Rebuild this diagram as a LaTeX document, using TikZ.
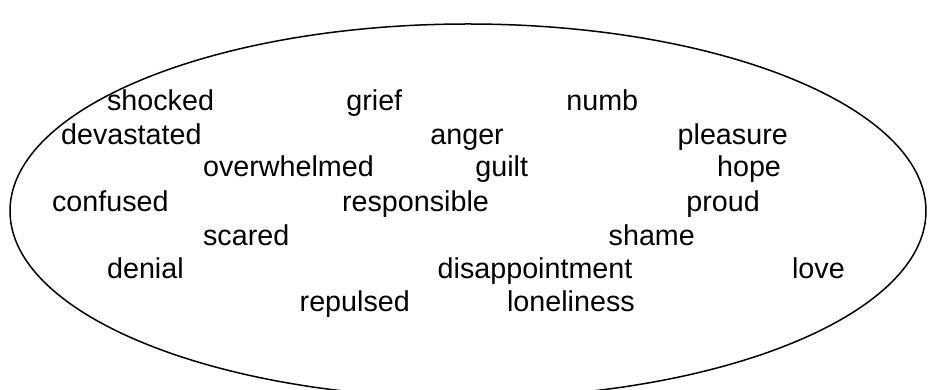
\documentclass[tikz,border=0pt]{standalone}
\usepackage{fontspec}
\setmainfont{Liberation Sans}

\begin{document}
\begin{tikzpicture}[x=0.5pt, y=0.5pt,
    feeling/.style={anchor=base west, inner sep=0pt, font=\fontsize{14.35}{17}\selectfont},
    bubble/.style={draw=black, line width=0.75pt},
]
\useasboundingbox (0,0) rectangle (928,390);
\clip (0,0) rectangle (928,390);
\draw[bubble] (468,179) ellipse [x radius=458, y radius=187];
% rows of words, top to bottom
\node[feeling] (shocked)     at (106.7, 279.0) {shocked};
\node[feeling] (grief)       at (346.0, 279.0) {grief};
\node[feeling] (numb)        at (566.0, 279.0) {numb};
\node[feeling] (devastated)  at ( 60.7, 245.5) {devastated};
\node[feeling] (anger)       at (430.0, 245.5) {anger};
\node[feeling] (pleasure)    at (677.3, 245.5) {pleasure};
\node[feeling] (overwhelmed) at (202.7, 213.0) {overwhelmed};
\node[feeling] (guilt)       at (475.0, 213.0) {guilt};
\node[feeling] (hope)        at (716.7, 213.0) {hope};
\node[feeling] (confused)    at ( 51.7, 178.5) {confused};
\node[feeling] (responsible) at (341.7, 178.5) {responsible};
\node[feeling] (proud)       at (686.0, 178.5) {proud};
\node[feeling] (scared)      at (202.7, 144.3) {scared};
\node[feeling] (shame)       at (608.3, 144.3) {shame};
\node[feeling] (denial)      at (106.7, 111.7) {denial};
\node[feeling] (disappoint)  at (437.3, 111.7) {disappointment};
\node[feeling] (love)        at (791.7, 111.7) {love};
\node[feeling] (repulsed)    at (299.3,  78.3) {repulsed};
\node[feeling] (loneliness)  at (506.7,  78.3) {loneliness};
\end{tikzpicture}
\end{document}
